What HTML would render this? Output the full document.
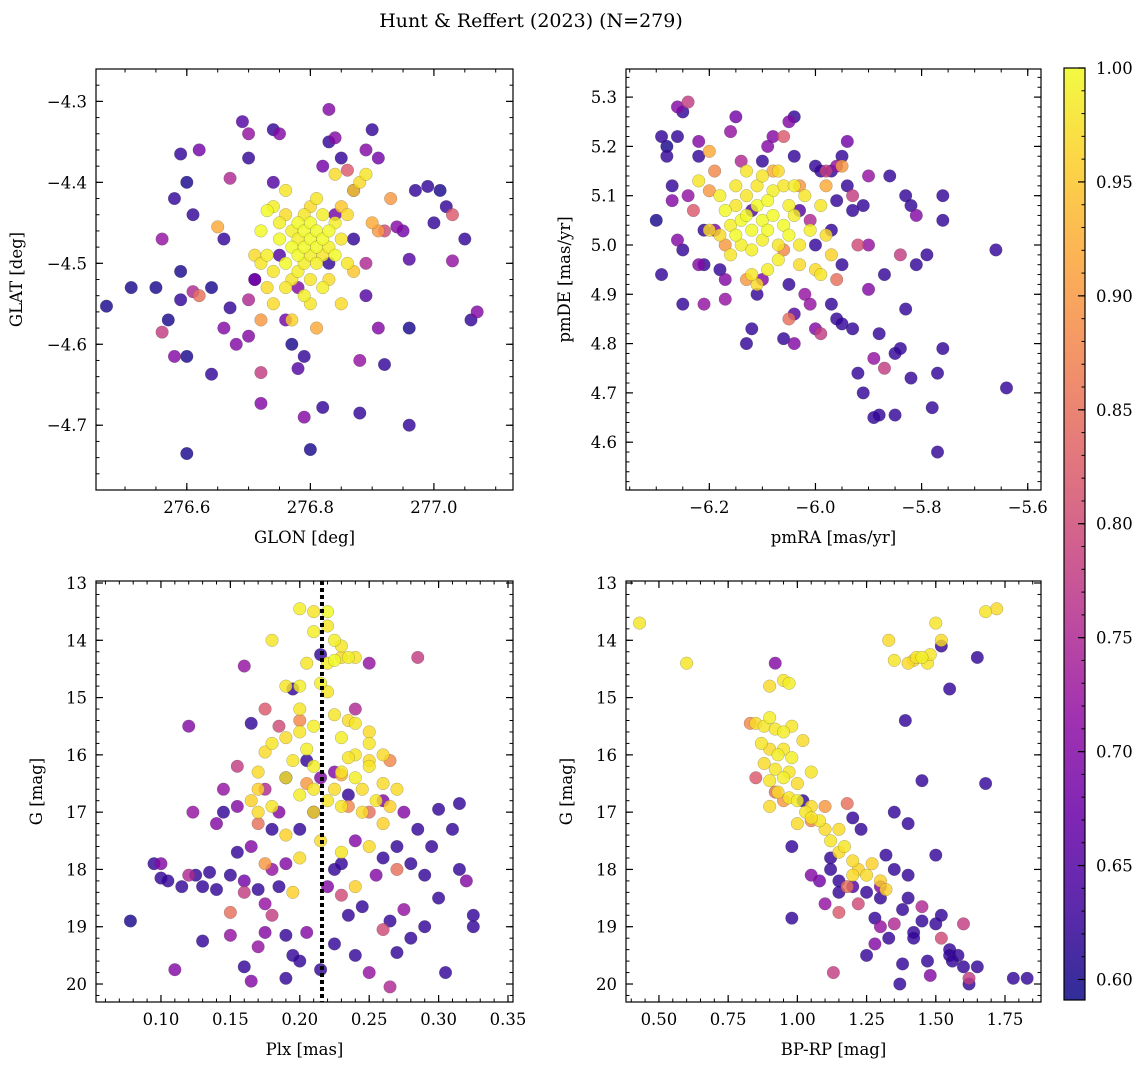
<!DOCTYPE html>
<html><head><meta charset="utf-8">
<style>
body{margin:0;background:#fff;}
svg{display:block;font-family:"DejaVu Serif","Liberation Serif",serif;}
</style></head>
<body>
<svg id="fig" width="1148" height="1068" viewBox="0 0 1148 1068">
<text x="531" y="27" text-anchor="middle" font-size="19">Hunt &amp; Reffert (2023) (N=279)</text>
</svg>
<script>
// ---------- DATA ----------
const panel1Points=[[276.47,-4.553,0.6],[276.51,-4.53,0.6],[276.55,-4.53,0.6],[276.56,-4.47,0.72],[276.56,-4.585,0.78],[276.57,-4.57,0.6],[276.58,-4.615,0.7],[276.59,-4.545,0.62],[276.58,-4.42,0.62],[276.59,-4.365,0.62],[276.6,-4.4,0.6],[276.6,-4.615,0.6],[276.6,-4.735,0.6],[276.61,-4.44,0.62],[276.62,-4.36,0.68],[276.59,-4.51,0.6],[276.61,-4.535,0.75],[276.62,-4.54,0.85],[276.64,-4.637,0.62],[276.64,-4.53,0.6],[276.65,-4.455,0.92],[276.66,-4.47,0.62],[276.66,-4.58,0.7],[276.67,-4.395,0.75],[276.67,-4.555,0.62],[276.68,-4.6,0.7],[276.69,-4.325,0.65],[276.7,-4.34,0.72],[276.7,-4.37,0.62],[276.7,-4.545,0.75],[276.7,-4.59,0.7],[276.71,-4.52,0.68],[276.72,-4.57,0.9],[276.72,-4.635,0.78],[276.72,-4.673,0.7],[276.72,-4.46,1.0],[276.73,-4.435,1.0],[276.74,-4.335,0.62],[276.74,-4.4,0.65],[276.75,-4.34,0.7],[276.76,-4.57,0.68],[276.77,-4.6,0.6],[276.79,-4.69,0.7],[276.79,-4.615,0.62],[276.78,-4.63,0.65],[276.8,-4.73,0.6],[276.81,-4.58,0.92],[276.82,-4.678,0.62],[276.82,-4.38,0.68],[276.83,-4.35,0.62],[276.83,-4.31,0.7],[276.84,-4.345,0.7],[276.85,-4.37,0.62],[276.86,-4.385,0.82],[276.87,-4.41,0.65],[276.88,-4.62,0.72],[276.88,-4.685,0.62],[276.89,-4.54,0.65],[276.89,-4.36,0.7],[276.9,-4.335,0.62],[276.91,-4.37,0.68],[276.91,-4.58,0.7],[276.92,-4.625,0.62],[276.93,-4.42,0.9],[276.94,-4.455,0.7],[276.95,-4.46,0.68],[276.96,-4.495,0.65],[276.96,-4.58,0.6],[276.96,-4.7,0.62],[276.97,-4.41,0.62],[276.99,-4.405,0.62],[277.0,-4.45,0.62],[277.01,-4.41,0.6],[277.02,-4.43,0.62],[277.03,-4.497,0.72],[277.03,-4.44,0.82],[277.05,-4.47,0.62],[277.06,-4.57,0.62],[277.07,-4.56,0.7],[276.87,-4.51,0.95],[276.9,-4.45,0.92],[276.91,-4.46,0.9],[276.89,-4.5,0.75],[276.92,-4.46,0.8],
[276.73,-4.49,0.99],[276.74,-4.51,0.98],[276.75,-4.47,1.0],[276.75,-4.45,0.99],[276.76,-4.44,0.97],[276.76,-4.5,1.0],[276.77,-4.46,0.99],[276.77,-4.48,1.0],[276.77,-4.52,0.98],[276.78,-4.45,1.0],[276.78,-4.47,0.99],[276.78,-4.49,1.0],[276.78,-4.51,0.99],[276.79,-4.44,0.98],[276.79,-4.46,1.0],[276.79,-4.48,1.0],[276.79,-4.5,0.99],[276.8,-4.43,0.97],[276.8,-4.45,1.0],[276.8,-4.47,1.0],[276.8,-4.49,0.99],[276.8,-4.52,0.98],[276.81,-4.46,1.0],[276.81,-4.48,1.0],[276.81,-4.5,0.99],[276.82,-4.44,0.99],[276.82,-4.47,1.0],[276.82,-4.49,0.98],[276.83,-4.46,1.0],[276.83,-4.48,0.99],[276.83,-4.52,0.97],[276.84,-4.45,0.99],[276.84,-4.49,1.0],[276.85,-4.47,0.98],[276.85,-4.43,0.95],[276.86,-4.5,0.98],[276.86,-4.44,0.97],[276.87,-4.41,0.96],[276.88,-4.4,0.97],[276.89,-4.39,0.98],[276.84,-4.39,0.97],[276.76,-4.53,0.98],[276.74,-4.55,0.97],[276.77,-4.57,0.96],[276.82,-4.53,0.99],[276.8,-4.55,0.98],[276.85,-4.55,0.97],[276.72,-4.5,0.98],[276.74,-4.43,0.99],[276.81,-4.42,0.98],[276.73,-4.53,0.97],[276.79,-4.54,0.99],[276.76,-4.41,0.98],[276.71,-4.49,0.97],
[276.75,-4.49,0.65],[276.84,-4.44,0.68],[276.83,-4.5,0.62],[276.78,-4.53,0.7],[276.87,-4.47,0.62],[276.71,-4.52,0.65]];

const panel2Points=[[-6.3,5.05,0.6],[-6.29,5.22,0.62],[-6.28,5.2,0.6],[-6.28,5.18,0.62],[-6.29,4.94,0.62],[-6.27,5.12,0.62],[-6.26,5.28,0.7],[-6.25,5.27,0.62],[-6.24,5.29,0.78],[-6.26,5.22,0.62],[-6.27,5.09,0.7],[-6.26,5.01,0.7],[-6.25,4.99,0.62],[-6.25,4.88,0.62],[-6.24,5.1,0.72],[-6.23,5.07,0.82],[-6.22,5.21,0.7],[-6.22,5.18,0.62],[-6.21,5.03,0.62],[-6.22,4.96,0.7],[-6.21,4.96,0.62],[-6.21,4.88,0.72],[-6.2,5.11,0.9],[-6.19,5.03,0.7],[-6.18,4.95,0.62],[-6.17,4.93,0.7],[-6.17,4.89,0.72],[-6.16,5.23,0.72],[-6.15,5.26,0.68],[-6.14,5.17,0.75],[-6.13,4.8,0.62],[-6.12,4.83,0.62],[-6.11,4.9,0.62],[-6.1,4.93,0.7],[-6.09,5.2,0.7],[-6.08,5.22,0.7],[-6.06,5.22,0.82],[-6.05,5.25,0.7],[-6.04,5.26,0.62],[-6.04,5.18,0.62],[-6.05,4.92,0.62],[-6.04,4.86,0.65],[-6.06,4.81,0.62],[-6.04,4.8,0.7],[-6.02,4.9,0.72],[-6.01,4.88,0.72],[-6.0,4.83,0.7],[-5.99,4.82,0.78],[-6.0,5.16,0.62],[-5.99,5.15,0.62],[-5.98,5.15,0.78],[-5.97,5.15,0.62],[-5.96,5.09,0.62],[-5.97,5.03,0.62],[-5.95,4.96,0.62],[-5.96,5.16,0.72],[-5.95,5.18,0.62],[-5.94,5.21,0.68],[-5.94,5.12,0.62],[-5.93,5.1,0.78],[-5.93,5.07,0.62],[-5.92,5.0,0.8],[-5.91,5.08,0.62],[-5.9,5.0,0.72],[-5.9,5.14,0.72],[-5.9,4.91,0.7],[-5.89,4.77,0.72],[-5.88,4.82,0.62],[-5.87,4.75,0.78],[-5.87,4.94,0.62],[-5.86,5.14,0.62],[-5.85,4.78,0.62],[-5.84,4.98,0.78],[-5.83,5.1,0.62],[-5.82,5.08,0.62],[-5.81,5.06,0.7],[-5.81,4.96,0.62],[-5.79,4.98,0.62],[-5.78,4.67,0.62],[-5.77,4.58,0.62],[-5.76,4.79,0.62],[-5.76,5.1,0.62],[-5.76,5.05,0.62],[-5.77,4.74,0.62],[-5.83,4.87,0.62],[-5.84,4.79,0.62],[-5.82,4.73,0.62],[-5.89,4.65,0.62],[-5.88,4.655,0.62],[-5.85,4.655,0.62],[-5.91,4.7,0.62],[-5.92,4.74,0.62],[-5.93,4.83,0.62],[-5.66,4.99,0.62],[-5.64,4.71,0.62],[-5.97,4.88,0.62],[-5.96,4.85,0.62],[-5.95,4.84,0.62],[-6.0,5.0,0.62],[-6.01,5.05,0.75],[-6.05,4.85,0.85],[-6.03,5.07,0.65],[-6.1,5.17,0.62],[-6.12,5.07,0.65],
[-6.22,5.13,0.98],[-6.18,5.1,0.99],[-6.17,5.07,1.0],[-6.16,5.04,0.99],[-6.15,5.02,1.0],[-6.15,5.08,0.98],[-6.14,5.05,1.0],[-6.14,5.0,0.99],[-6.13,5.1,0.98],[-6.13,5.06,1.0],[-6.12,5.03,1.0],[-6.12,4.99,0.99],[-6.11,5.08,1.0],[-6.11,5.12,0.98],[-6.1,5.05,1.0],[-6.1,5.01,0.99],[-6.09,5.09,1.0],[-6.09,5.03,1.0],[-6.08,5.11,0.99],[-6.08,5.06,1.0],[-6.07,5.0,0.98],[-6.07,4.97,0.99],[-6.06,5.04,1.0],[-6.06,5.12,0.98],[-6.05,5.08,0.99],[-6.05,5.02,1.0],[-6.04,5.06,0.99],[-6.03,5.0,0.98],[-6.03,4.96,0.97],[-6.02,5.1,0.98],[-6.01,5.03,0.99],[-6.0,4.95,0.97],[-5.99,5.08,0.98],[-5.98,5.02,0.97],[-5.97,4.98,0.96],[-5.99,4.94,0.98],[-6.09,4.95,0.99],[-6.12,4.94,0.98],[-6.16,4.98,0.98],[-6.18,5.02,0.97],[-6.2,5.03,0.97],[-6.1,5.14,0.98],[-6.04,5.12,0.99],[-6.15,5.12,0.98],[-6.11,4.92,0.97],[-6.07,5.15,0.97],[-6.13,5.15,0.98],
[-6.2,5.19,0.92],[-6.19,5.15,0.88],[-6.17,5.0,0.9],[-6.13,4.93,0.9],[-6.06,4.99,0.88],[-5.98,5.12,0.92],[-5.95,5.16,0.9],[-5.96,4.93,0.85],[-6.03,5.12,0.9],[-6.08,5.15,0.92]];

const panel3Points=[[0.2,13.45,0.99],[0.21,13.5,0.98],[0.22,13.5,1.0],[0.21,13.85,0.99],[0.22,13.75,0.98],[0.225,14.0,0.99],[0.23,14.1,0.98],[0.23,14.3,0.97],[0.235,14.3,0.99],[0.24,14.3,0.98],[0.22,14.4,0.99],[0.205,14.4,0.98],[0.225,14.35,1.0],[0.18,14.0,0.98],[0.19,14.8,0.98],[0.2,14.8,0.99],[0.22,14.9,0.98],[0.215,14.75,0.99],[0.225,15.3,0.98],[0.235,15.4,0.97],[0.24,15.45,0.98],[0.25,15.6,0.97],[0.23,15.7,0.99],[0.24,16.0,0.98],[0.25,16.1,0.97],[0.23,16.3,0.98],[0.21,15.5,0.99],[0.2,15.6,0.98],[0.19,15.7,0.97],[0.205,15.9,0.99],[0.18,15.8,0.98],[0.17,16.3,0.97],[0.19,16.4,0.98],[0.2,16.7,0.99],[0.21,16.6,0.98],[0.225,16.6,0.97],[0.23,16.9,0.98],[0.24,16.4,0.99],[0.245,16.6,0.97],[0.255,16.8,0.98],[0.26,16.5,0.97],[0.265,16.9,0.96],[0.27,16.6,0.97],[0.26,17.2,0.96],[0.25,17.6,0.97],[0.23,17.7,0.98],[0.21,17.0,0.97],[0.19,17.4,0.96],[0.17,17.0,0.97],[0.165,16.8,0.96],[0.18,16.9,0.98],[0.2,17.8,0.97],[0.195,18.4,0.96],[0.24,18.3,0.96],[0.25,15.8,0.98],[0.175,15.95,0.97],[0.2,15.2,0.98],[0.21,16.2,0.99],[0.22,16.8,0.98],[0.215,17.5,0.97],[0.235,16.05,0.98],[0.245,17.0,0.97],[0.25,16.2,0.98],[0.17,16.6,0.96],[0.26,16.0,0.97],[0.195,16.1,0.98],
[0.2,15.4,0.88],[0.185,15.5,0.8],[0.175,15.2,0.82],[0.205,16.5,0.9],[0.235,16.9,0.88],[0.25,17.0,0.85],[0.265,16.1,0.88],[0.175,17.9,0.9],[0.17,17.2,0.85],[0.155,16.2,0.78],[0.15,18.75,0.85],[0.26,19.05,0.8],[0.285,14.3,0.78],[0.18,18.8,0.78],[0.23,18.45,0.8],[0.27,18.0,0.85],[0.16,18.4,0.78],[0.23,16.35,0.92],
[0.078,18.9,0.6],[0.095,17.9,0.62],[0.1,17.9,0.7],[0.1,18.15,0.62],[0.105,18.2,0.62],[0.11,19.75,0.7],[0.115,18.3,0.62],[0.12,15.5,0.7],[0.12,18.1,0.75],[0.125,18.1,0.62],[0.123,17.0,0.72],[0.13,18.3,0.62],[0.13,19.25,0.62],[0.135,18.05,0.62],[0.14,17.2,0.7],[0.14,18.35,0.62],[0.145,17.0,0.62],[0.15,18.1,0.62],[0.15,19.15,0.72],[0.155,16.9,0.7],[0.155,17.7,0.62],[0.16,19.7,0.62],[0.16,18.2,0.68],[0.16,14.45,0.72],[0.165,15.45,0.62],[0.165,17.6,0.7],[0.17,18.35,0.62],[0.17,19.35,0.72],[0.175,18.6,0.72],[0.175,19.1,0.7],[0.18,18.0,0.72],[0.18,17.3,0.62],[0.185,18.3,0.62],[0.19,17.9,0.7],[0.19,19.15,0.62],[0.19,16.4,0.62],[0.195,14.85,0.62],[0.195,19.5,0.62],[0.2,19.6,0.62],[0.2,17.3,0.62],[0.205,19.1,0.7],[0.21,17.0,0.62],[0.215,19.75,0.62],[0.215,14.25,0.62],[0.215,16.4,0.7],[0.22,18.3,0.7],[0.225,18.0,0.62],[0.225,19.3,0.62],[0.23,17.9,0.62],[0.235,18.8,0.62],[0.24,19.5,0.62],[0.24,17.5,0.7],[0.245,18.65,0.62],[0.25,14.4,0.72],[0.25,19.8,0.72],[0.255,18.1,0.7],[0.26,17.8,0.62],[0.265,18.9,0.62],[0.265,20.05,0.75],[0.27,17.6,0.62],[0.27,19.45,0.62],[0.275,18.7,0.72],[0.28,17.9,0.62],[0.28,19.2,0.62],[0.285,17.3,0.62],[0.29,18.1,0.62],[0.29,19.0,0.62],[0.295,17.6,0.62],[0.3,16.95,0.62],[0.3,18.5,0.62],[0.305,19.8,0.62],[0.31,17.3,0.62],[0.315,16.85,0.62],[0.315,18.0,0.62],[0.32,18.2,0.7],[0.325,18.8,0.62],[0.325,19.0,0.62],[0.24,15.2,0.75],[0.26,16.8,0.7],[0.235,16.7,0.62],[0.225,16.3,0.7],[0.205,16.1,0.62],[0.185,17.0,0.7],[0.175,16.6,0.75],[0.145,16.6,0.72],[0.275,17.0,0.7],[0.19,19.9,0.62],[0.165,19.95,0.7]];

const panel4Points=[[0.43,13.7,0.98],[0.6,14.4,0.98],[0.9,14.8,0.97],[0.95,14.7,0.98],[0.97,14.75,0.99],[0.85,15.45,0.97],[0.88,15.5,0.98],[0.9,15.35,0.99],[0.92,15.55,0.98],[0.95,15.6,0.99],[0.87,15.8,0.98],[0.9,15.9,0.97],[0.93,16.0,0.99],[0.95,15.9,0.98],[0.98,16.05,0.99],[0.88,16.15,0.97],[0.92,16.25,0.98],[0.95,16.4,0.99],[0.97,16.3,0.98],[1.0,16.5,0.97],[0.9,16.45,0.98],[0.93,16.65,0.97],[0.97,16.75,0.98],[1.0,16.8,0.99],[1.03,17.0,0.98],[1.05,16.9,0.97],[1.08,17.15,0.98],[1.1,17.3,0.97],[1.12,17.5,0.98],[1.15,17.7,0.97],[1.17,17.6,0.98],[1.2,17.85,0.97],[1.22,18.0,0.96],[1.25,18.1,0.97],[1.3,18.2,0.96],[1.0,17.2,0.97],[1.05,17.1,0.98],[1.33,14.0,0.97],[1.35,14.35,0.98],[1.4,14.4,0.97],[1.43,14.3,0.98],[1.45,14.3,0.99],[1.47,14.4,0.98],[1.5,13.7,0.98],[1.52,14.0,0.97],[1.48,14.25,0.98],[1.68,13.5,0.98],[1.72,13.45,0.97],[1.42,14.35,0.96],[0.98,15.5,0.98],[1.02,15.75,0.97],[0.9,16.9,0.97],[1.05,16.3,0.98],[1.15,17.3,0.97],[1.27,17.9,0.96],[1.2,18.1,0.97],[1.32,18.35,0.96],
[0.83,15.45,0.88],[0.85,16.4,0.82],[0.92,16.65,0.85],[1.05,17.15,0.88],[1.1,16.9,0.9],[1.18,18.3,0.85],[1.22,18.6,0.8],[1.15,18.75,0.82],[1.13,19.8,0.78],[1.35,18.95,0.75],[1.52,19.2,0.8],[1.6,18.95,0.78],[1.62,19.9,0.78],[1.18,16.85,0.85],[0.95,16.8,0.9],[1.45,18.65,0.75],
[0.92,14.4,0.7],[1.02,16.8,0.62],[0.98,17.6,0.62],[0.98,18.85,0.62],[1.05,18.1,0.7],[1.1,18.6,0.72],[1.12,18.0,0.62],[1.15,18.2,0.62],[1.2,18.3,0.65],[1.25,18.4,0.62],[1.25,19.5,0.62],[1.28,18.85,0.62],[1.3,18.5,0.62],[1.3,19.0,0.72],[1.32,17.75,0.62],[1.35,17.0,0.62],[1.35,18.0,0.62],[1.38,18.7,0.62],[1.4,17.2,0.62],[1.4,18.1,0.62],[1.42,19.1,0.62],[1.45,18.9,0.62],[1.47,19.6,0.62],[1.48,19.85,0.7],[1.5,18.95,0.62],[1.55,19.4,0.62],[1.55,19.5,0.62],[1.58,19.5,0.62],[1.6,19.7,0.62],[1.62,20.0,0.62],[1.65,19.7,0.62],[1.45,16.45,0.62],[1.39,15.4,0.62],[1.55,14.85,0.62],[1.52,14.1,0.62],[1.65,14.3,0.62],[1.68,16.5,0.62],[1.78,19.9,0.62],[1.83,19.9,0.62],[1.37,20.0,0.62],[1.42,19.2,0.62],[1.38,19.65,0.62],[1.52,18.8,0.62],[1.5,17.75,0.62],[1.23,17.3,0.62],[1.2,17.1,0.62],[1.15,18.4,0.62],[1.08,18.2,0.68],[1.33,19.2,0.62],[1.28,19.3,0.7],[1.12,17.8,0.62],[1.3,18.3,0.7],[1.4,18.5,0.62],[1.56,19.6,0.62]];

const parallaxLine=0.216;
const p1XTicks=[276.6,276.8,277.0], p1YTicks=[-4.3,-4.4,-4.5,-4.6,-4.7];
const p2XTicks=[-6.2,-6.0,-5.8,-5.6], p2YTicks=[5.3,5.2,5.1,5.0,4.9,4.8,4.7,4.6];
const p3XTicks=[0.10,0.15,0.20,0.25,0.30,0.35], gYTicks=[13,14,15,16,17,18,19,20];
const p4XTicks=[0.50,0.75,1.00,1.25,1.50,1.75];
const cbTicks=[0.60,0.65,0.70,0.75,0.80,0.85,0.90,0.95,1.00];
const cMin=0.591,cMax=1.0;

// ---------- RENDER ----------
const NS="http://www.w3.org/2000/svg";
const svg=document.getElementById('fig');
function mk(tag,attrs,parent){const e=document.createElementNS(NS,tag);for(const k in attrs)e.setAttribute(k,attrs[k]);(parent||svg).appendChild(e);return e;}
const stops=[[0,[13,8,135]],[0.1,[65,4,157]],[0.2,[106,0,168]],[0.3,[143,13,164]],[0.4,[177,42,144]],[0.5,[204,71,120]],[0.6,[225,100,98]],[0.7,[242,132,75]],[0.8,[252,166,54]],[0.9,[252,206,37]],[1,[240,249,33]]];
function plasma(t){t=Math.max(0,Math.min(1,t));for(let i=1;i<stops.length;i++){if(t<=stops[i][0]){const a=stops[i-1],b=stops[i];const f=(t-a[0])/(b[0]-a[0]);const c=a[1].map((v,j)=>Math.round(v+(b[1][j]-v)*f));return `rgb(${c[0]},${c[1]},${c[2]})`;}}return 'rgb(240,249,33)';}
function cmap(v){return plasma((v-cMin)/(cMax-cMin));}
function fmt(v,d){return v.toFixed(d).replace('-','\u2212');}
const FS=16.5;

function panel(o){
  const g=mk('g',{});
  
  
  const sx=v=>o.x0+(v-o.xmin)/(o.xmax-o.xmin)*(o.x1-o.x0);
  const sy=o.inv ? (v=>o.y0+(v-o.ymin)/(o.ymax-o.ymin)*(o.y1-o.y0)) : (v=>o.y1-(v-o.ymin)/(o.ymax-o.ymin)*(o.y1-o.y0));
  const pts=o.pts.slice().sort((a,b)=>a[2]-b[2]);
  const clipId='clip'+o.name;
  const cp=mk('clipPath',{id:clipId},g);mk('rect',{x:o.x0,y:o.y0,width:o.x1-o.x0,height:o.y1-o.y0},cp);
  const pg=mk('g',{'clip-path':`url(#${clipId})`},g);
  pts.forEach(p=>{
    const c=mk('circle',{cx:sx(p[0]),cy:sy(p[1]),r:6.3,fill:cmap(p[2]),'fill-opacity':0.82,stroke:'#444','stroke-width':0.35,'stroke-opacity':0.6},pg);
    
    
  });
  if(o.vline!==undefined){
    const l=mk('line',{x1:sx(o.vline),x2:sx(o.vline),y1:o.y0,y2:o.y1,stroke:'#000','stroke-width':4,'stroke-dasharray':'4,3'},g);
    
    
  }
  const fr=mk('rect',{x:o.x0,y:o.y0,width:o.x1-o.x0,height:o.y1-o.y0,fill:'none',stroke:'#000','stroke-width':1.2},g);
  
  
  const eps=1e-9;
  for(let v=Math.ceil(o.xmin/o.xminor-eps)*o.xminor;v<=o.xmax+eps;v+=o.xminor){const X=sx(v);mk('line',{x1:X,x2:X,y1:o.y1,y2:o.y1-3.5,stroke:'#000','stroke-width':1},g);mk('line',{x1:X,x2:X,y1:o.y0,y2:o.y0+3.5,stroke:'#000','stroke-width':1},g);}
  for(let v=Math.ceil(o.ymin/o.yminor-eps)*o.yminor;v<=o.ymax+eps;v+=o.yminor){const Y=sy(v);mk('line',{x1:o.x0,x2:o.x0+3.5,y1:Y,y2:Y,stroke:'#000','stroke-width':1},g);mk('line',{x1:o.x1,x2:o.x1-3.5,y1:Y,y2:Y,stroke:'#000','stroke-width':1},g);}
  o.xt.forEach(v=>{const X=sx(v);mk('line',{x1:X,x2:X,y1:o.y1,y2:o.y1-7,stroke:'#000','stroke-width':1.2},g);mk('line',{x1:X,x2:X,y1:o.y0,y2:o.y0+7,stroke:'#000','stroke-width':1.2},g);
    const t=mk('text',{x:X,y:o.y1+23,'text-anchor':'middle','font-size':FS},g);t.textContent=fmt(v,o.xd);
    
    });
  o.yt.forEach(v=>{const Y=sy(v);mk('line',{x1:o.x0,x2:o.x0+7,y1:Y,y2:Y,stroke:'#000','stroke-width':1.2},g);mk('line',{x1:o.x1,x2:o.x1-7,y1:Y,y2:Y,stroke:'#000','stroke-width':1.2},g);
    const t=mk('text',{x:o.x0-9,y:Y+6,'text-anchor':'end','font-size':FS},g);t.textContent=fmt(v,o.yd);
    
    });
  const xl=mk('text',{x:(o.x0+o.x1)/2,y:o.y1+53,'text-anchor':'middle','font-size':FS},g);xl.textContent=o.xlabel;
  
  
  const yx=o.ylx,yy=(o.y0+o.y1)/2;
  const yl=mk('text',{x:yx,y:yy,'text-anchor':'middle','font-size':FS,transform:`rotate(-90 ${yx} ${yy})`},g);yl.textContent=o.ylabel;
  
  
}

panel({name:'glon-glat-panel',pts:panel1Points,x0:96,x1:513,y0:69,y1:490,xmin:276.453,xmax:277.128,ymin:-4.78,ymax:-4.26,xt:p1XTicks,yt:p1YTicks,xd:1,yd:1,xminor:0.05,yminor:0.02,xlabel:'GLON [deg]',ylabel:'GLAT [deg]',ylx:22});
panel({name:'proper-motion-panel',pts:panel2Points,x0:626,x1:1041,y0:69,y1:490,xmin:-6.357,xmax:-5.575,ymin:4.503,ymax:5.357,xt:p2XTicks,yt:p2YTicks,xd:1,yd:1,xminor:0.05,yminor:0.02,xlabel:'pmRA [mas/yr]',ylabel:'pmDE [mas/yr]',ylx:570});
panel({name:'parallax-mag-panel',pts:panel3Points,x0:96,x1:513,y0:581,y1:1002,xmin:0.0532,xmax:0.3536,ymin:12.965,ymax:20.314,xt:p3XTicks,yt:gYTicks,xd:2,yd:0,xminor:0.01,yminor:0.2,xlabel:'Plx [mas]',ylabel:'G [mag]',ylx:42,vline:parallaxLine,inv:true});
panel({name:'cmd-panel',pts:panel4Points,x0:626,x1:1041,y0:581,y1:1002,xmin:0.381,xmax:1.88,ymin:12.965,ymax:20.314,xt:p4XTicks,yt:gYTicks,xd:2,yd:0,xminor:0.05,yminor:0.2,xlabel:'BP-RP [mag]',ylabel:'G [mag]',ylx:572,inv:true});

// ---------- COLORBAR ----------
(function(){
  const x0=1064,x1=1085,y0=68,y1=1000;
  const cb=mk('g',{});
  
  
  const grad=mk('linearGradient',{id:'cbgrad',x1:0,y1:1,x2:0,y2:0},cb);
  for(let i=0;i<=20;i++){const t=i/20;mk('stop',{offset:t,'stop-color':plasma(t),'stop-opacity':0.85},grad);}
  mk('rect',{x:x0,y:y0,width:x1-x0,height:y1-y0,fill:'url(#cbgrad)',stroke:'#000','stroke-width':1.2},cb);
  const sy=v=>y1-(v-cMin)/(cMax-cMin)*(y1-y0);
  for(let v=0.60;v<=1.0001;v+=0.01){const Y=sy(v);mk('line',{x1:x1,x2:x1-3.5,y1:Y,y2:Y,stroke:'#000','stroke-width':1},cb);}
  cbTicks.forEach(v=>{const Y=sy(v);mk('line',{x1:x1,x2:x1-7,y1:Y,y2:Y,stroke:'#000','stroke-width':1.2},cb);
    const t=mk('text',{x:x1+11,y:Y+6,'font-size':FS},cb);t.textContent=v.toFixed(2);
    
    });
})();
</script>
</body></html>
